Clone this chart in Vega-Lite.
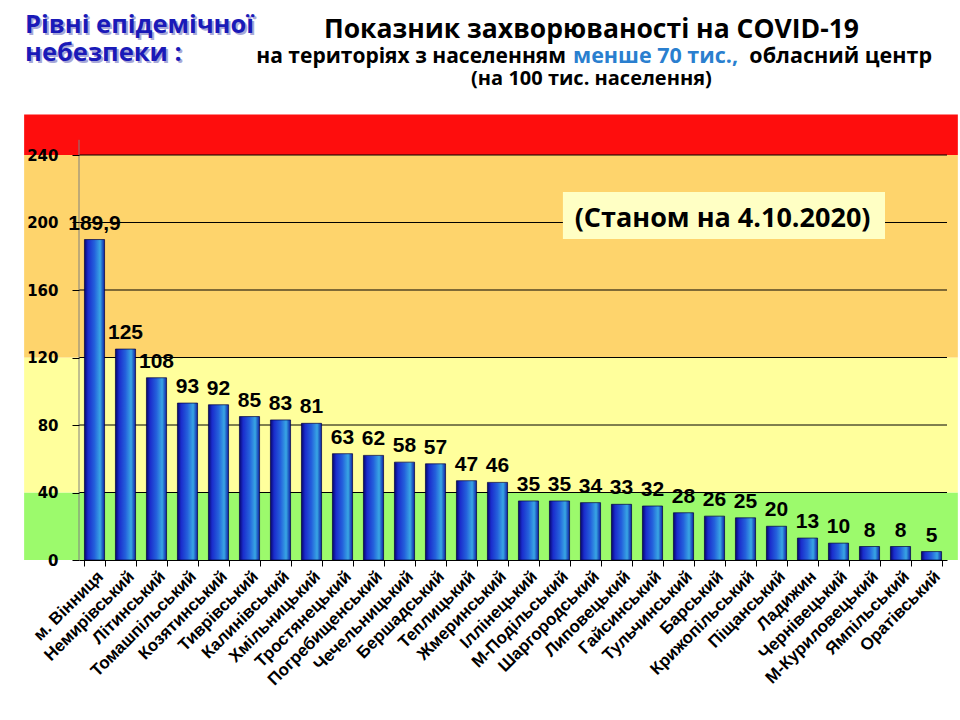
{
  "$schema": "https://vega.github.io/schema/vega-lite/v6.json",
  "width": 868,
  "height": 405,
  "autosize": {"type": "none"},
  "padding": {"left": 79, "top": 155, "right": 13, "bottom": 160},
  "background": "white",
  "config": {
    "view": {"stroke": null},
    "locale": {"number": {"decimal": ",", "thousands": " ", "grouping": [3], "currency": ["", ""]}}
  },
  "datasets": {
    "rates": [
      {"district": "м. Вінниця", "rate": 189.9},
      {"district": "Немирівський", "rate": 125},
      {"district": "Літинський", "rate": 108},
      {"district": "Томашпільський", "rate": 93},
      {"district": "Козятинський", "rate": 92},
      {"district": "Тиврівський", "rate": 85},
      {"district": "Калинівський", "rate": 83},
      {"district": "Хмільницький", "rate": 81},
      {"district": "Тростянецький", "rate": 63},
      {"district": "Погребищенський", "rate": 62},
      {"district": "Чечельницький", "rate": 58},
      {"district": "Бершадський", "rate": 57},
      {"district": "Теплицький", "rate": 47},
      {"district": "Жмеринський", "rate": 46},
      {"district": "Іллінецький", "rate": 35},
      {"district": "М-Подільський", "rate": 35},
      {"district": "Шаргородський", "rate": 34},
      {"district": "Липовецький", "rate": 33},
      {"district": "Гайсинський", "rate": 32},
      {"district": "Тульчинський", "rate": 28},
      {"district": "Барський", "rate": 26},
      {"district": "Крижопільський", "rate": 25},
      {"district": "Піщанський", "rate": 20},
      {"district": "Ладижин", "rate": 13},
      {"district": "Чернівецький", "rate": 10},
      {"district": "М-Куриловецький", "rate": 8},
      {"district": "Ямпільський", "rate": 8},
      {"district": "Оратівський", "rate": 5}
    ],
    "zones": [
      {"zone": "зелений", "lo": 0, "hi": 40},
      {"zone": "жовтий", "lo": 40, "hi": 120},
      {"zone": "помаранчевий", "lo": 120, "hi": 240},
      {"zone": "червоний", "lo": 240, "hi": 264}
    ],
    "grid": [
      {"level": 40}, {"level": 80}, {"level": 120}, {"level": 160}, {"level": 200}, {"level": 240}
    ]
  },
  "resolve": {"scale": {"x": "independent"}, "axis": {"y": "independent"}},
  "layer": [
    {
      "data": {"name": "zones"},
      "mark": {"type": "rect"},
      "encoding": {
        "x": {"datum": -1.77, "type": "quantitative", "scale": {"domain": [0, 28]}, "axis": null},
        "x2": {"datum": 28.35},
        "y": {"field": "lo", "type": "quantitative", "scale": {"domain": [0, 240]}, "axis": null},
        "y2": {"field": "hi"},
        "color": {
          "field": "zone", "type": "nominal", "legend": null,
          "scale": {
            "domain": ["зелений", "жовтий", "помаранчевий", "червоний"],
            "range": ["#9cfa6c", "#ffff9c", "#fed46c", "#fe0d0d"]
          }
        }
      }
    },
    {
      "data": {"name": "grid"},
      "mark": {"type": "rule", "color": "#000000", "strokeWidth": 1},
      "encoding": {
        "y": {"field": "level", "type": "quantitative", "scale": {"domain": [0, 240]}, "axis": null}
      }
    },
    {
      "data": {"values": [{}]},
      "mark": {"type": "rule", "color": "#808080", "strokeWidth": 1},
      "encoding": {
        "x": {"datum": 0, "type": "quantitative", "scale": {"domain": [0, 28]}, "axis": null},
        "y": {"datum": 0, "type": "quantitative", "scale": {"domain": [0, 240]}, "axis": null},
        "y2": {"datum": 249}
      }
    },
    {
      "data": {"values": [{}]},
      "mark": {"type": "rect", "color": "#ffffc4"},
      "encoding": {
        "x": {"datum": 15.61, "type": "quantitative", "scale": {"domain": [0, 28]}, "axis": null},
        "x2": {"datum": 26.0},
        "y": {"datum": 190.2, "type": "quantitative", "scale": {"domain": [0, 240]}, "axis": null},
        "y2": {"datum": 218.1}
      }
    },
    {
      "data": {"values": [{"t": "(Станом на 4.10.2020)"}]},
      "mark": {"type": "text", "font": "Open Sans", "fontWeight": "bold", "fontSize": 27, "align": "center", "baseline": "alphabetic", "color": "#000000"},
      "encoding": {
        "x": {"datum": 20.76, "type": "quantitative", "scale": {"domain": [0, 28]}, "axis": null},
        "y": {"datum": 197.3, "type": "quantitative", "scale": {"domain": [0, 240]}, "axis": null},
        "text": {"field": "t"}
      }
    },
    {
      "data": {"values": [{"t": "Рівні епідемічної\nнебезпеки :"}]},
      "mark": {"type": "text", "font": "Open Sans", "fontWeight": "bold", "fontSize": 25.5, "align": "left", "baseline": "alphabetic", "lineBreak": "\n", "lineHeight": 28, "color": "#a8a8d8", "dx": 2, "dy": 2},
      "encoding": {
        "x": {"datum": -1.742, "type": "quantitative", "scale": {"domain": [0, 28]}, "axis": null},
        "y": {"datum": 312.3, "type": "quantitative", "scale": {"domain": [0, 240]}, "axis": null},
        "text": {"field": "t"}
      }
    },
    {
      "data": {"values": [{"t": "Рівні епідемічної\nнебезпеки :"}]},
      "mark": {"type": "text", "font": "Open Sans", "fontWeight": "bold", "fontSize": 25.5, "align": "left", "baseline": "alphabetic", "lineBreak": "\n", "lineHeight": 28, "color": "#1a1ab8"},
      "encoding": {
        "x": {"datum": -1.742, "type": "quantitative", "scale": {"domain": [0, 28]}, "axis": null},
        "y": {"datum": 312.3, "type": "quantitative", "scale": {"domain": [0, 240]}, "axis": null},
        "text": {"field": "t"}
      }
    },
    {
      "data": {"values": [{"t": "Показник захворюваності на COVID-19"}]},
      "mark": {"type": "text", "font": "Open Sans", "fontWeight": "bold", "fontSize": 26.5, "align": "center", "baseline": "alphabetic", "color": "#000000"},
      "encoding": {
        "x": {"datum": 16.53, "type": "quantitative", "scale": {"domain": [0, 28]}, "axis": null},
        "y": {"datum": 309.5, "type": "quantitative", "scale": {"domain": [0, 240]}, "axis": null},
        "text": {"field": "t"}
      }
    },
    {
      "data": {"values": [{"t": "на територіях з населенням"}]},
      "mark": {"type": "text", "font": "Open Sans", "fontWeight": "bold", "fontSize": 21, "align": "right", "baseline": "alphabetic", "color": "#000000"},
      "encoding": {
        "x": {"datum": 15.71, "type": "quantitative", "scale": {"domain": [0, 28]}, "axis": null},
        "y": {"datum": 294.3, "type": "quantitative", "scale": {"domain": [0, 240]}, "axis": null},
        "text": {"field": "t"}
      }
    },
    {
      "data": {"values": [{"t": "менше 70 тис.,"}]},
      "mark": {"type": "text", "font": "Open Sans", "fontWeight": "bold", "fontSize": 21.5, "align": "left", "baseline": "alphabetic", "color": "#2a7fcf"},
      "encoding": {
        "x": {"datum": 15.935, "type": "quantitative", "scale": {"domain": [0, 28]}, "axis": null},
        "y": {"datum": 294.3, "type": "quantitative", "scale": {"domain": [0, 240]}, "axis": null},
        "text": {"field": "t"}
      }
    },
    {
      "data": {"values": [{"t": "обласний центр"}]},
      "mark": {"type": "text", "font": "Open Sans", "fontWeight": "bold", "fontSize": 21.5, "align": "right", "baseline": "alphabetic", "color": "#000000"},
      "encoding": {
        "x": {"datum": 27.516, "type": "quantitative", "scale": {"domain": [0, 28]}, "axis": null},
        "y": {"datum": 294.3, "type": "quantitative", "scale": {"domain": [0, 240]}, "axis": null},
        "text": {"field": "t"}
      }
    },
    {
      "data": {"values": [{"t": "(на 100  тис. населення)"}]},
      "mark": {"type": "text", "font": "Open Sans", "fontWeight": "bold", "fontSize": 20, "align": "center", "baseline": "alphabetic", "color": "#000000"},
      "encoding": {
        "x": {"datum": 16.53, "type": "quantitative", "scale": {"domain": [0, 28]}, "axis": null},
        "y": {"datum": 281.5, "type": "quantitative", "scale": {"domain": [0, 240]}, "axis": null},
        "text": {"field": "t"}
      }
    },
    {
      "data": {"name": "rates"},
      "mark": {
        "type": "bar",
        "stroke": "#000040",
        "strokeWidth": 0.7,
        "color": {
          "gradient": "linear", "x1": 0, "y1": 0, "x2": 1, "y2": 0,
          "stops": [
            {"offset": 0, "color": "#06066e"},
            {"offset": 0.18, "color": "#1a2ccc"},
            {"offset": 0.5, "color": "#2461dc"},
            {"offset": 0.78, "color": "#38a6e4"},
            {"offset": 1, "color": "#0d1fa6"}
          ]
        }
      },
      "encoding": {
        "x": {
          "field": "district", "type": "nominal", "sort": null,
          "scale": {"paddingInner": 0.35, "paddingOuter": 0.175},
          "axis": {
            "title": null, "labelAngle": -45, "labelFont": "Liberation Sans", "labelFontSize": 17,
            "labelFontWeight": "bold", "labelColor": "#000000", "labelPadding": 2,
            "tickSize": 6, "tickColor": "#000000", "tickBand": "extent", "domainColor": "#000000", "zindex": 1
          }
        },
        "y": {
          "field": "rate", "type": "quantitative", "scale": {"domain": [0, 240]},
          "axis": {
            "title": null, "values": [0, 40, 80, 120, 160, 200, 240], "grid": false, "domain": false,
            "tickSize": 7, "tickColor": "#000000", "labelFont": "DejaVu Sans", "labelFontSize": 15,
            "labelFontWeight": "bold", "labelColor": "#000000", "labelPadding": 14, "zindex": 1
          }
        }
      }
    },
    {
      "data": {"name": "rates"},
      "mark": {"type": "text", "font": "Liberation Sans", "fontWeight": "bold", "fontSize": 21, "baseline": "alphabetic", "dy": -10, "color": "#000000"},
      "encoding": {
        "x": {"field": "district", "type": "nominal", "sort": null, "scale": {"paddingInner": 0.35, "paddingOuter": 0.175}, "axis": null},
        "y": {"field": "rate", "type": "quantitative", "scale": {"domain": [0, 240]}, "axis": null},
        "text": {"field": "rate", "type": "quantitative", "format": ".1~f"}
      }
    }
  ]
}
